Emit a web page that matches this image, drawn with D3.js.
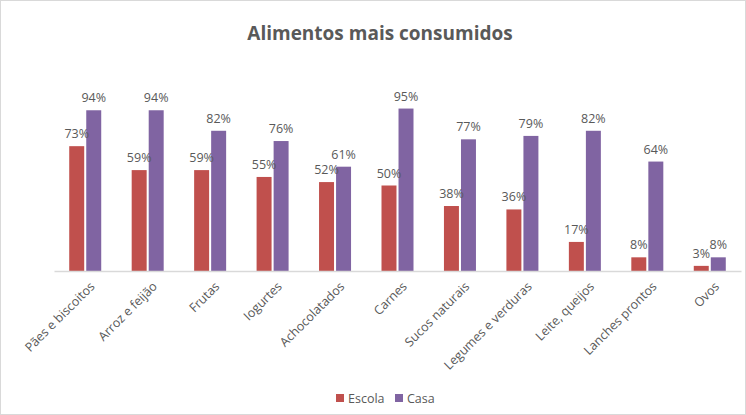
<!DOCTYPE html>
<html>
<head>
<meta charset="utf-8">
<script src="https://cdn.jsdelivr.net/npm/d3@7"></script>
<style>
  body { margin: 0; background: #fff; }
  text { font-family: "Open Sans", "Liberation Sans", sans-serif; fill: #595959; }
</style>
</head>
<body>
<div id="chart"></div>
<script>
// chart data
const categories = ['Pães e biscoitos', 'Arroz e feijão', 'Frutas', 'Iogurtes', 'Achocolatados',
  'Carnes', 'Sucos naturais', 'Legumes e verduras', 'Leite, queijos', 'Lanches prontos', 'Ovos'];
const escola = [73, 59, 59, 55, 52, 50, 38, 36, 17, 8, 3];
const casa = [94, 94, 82, 76, 61, 95, 77, 79, 82, 64, 8];
const seriesNames = ['Escola', 'Casa'];
const colors = ['#C0504D', '#8064A2'];

const width = 746;
const height = 415;
const margin = { top: 100, right: 5, bottom: 144, left: 54 };

const svg = d3.select('#chart')
  .append('svg')
  .attr('width', width)
  .attr('height', height);

// outer border
svg.append('rect')
  .attr('x', 0.5).attr('y', 0.5)
  .attr('width', width - 1).attr('height', height - 1)
  .attr('fill', '#fff')
  .attr('stroke', '#d9d9d9');

svg.append('text')
  .attr('x', 380)
  .attr('y', 40)
  .attr('text-anchor', 'middle')
  .style('font-size', '19px')
  .style('font-weight', 'bold')
  .text('Alimentos mais consumidos');

const x = d3.scaleBand()
  .domain(categories)
  .range([margin.left, width - margin.right]);

const xInner = d3.scaleBand()
  .domain(seriesNames)
  .range([0, 32])
  .paddingInner(0.12);

const y = d3.scaleLinear()
  .domain([0, 100])
  .range([height - margin.bottom, margin.top]);

const rows = categories.map((c, i) => ({ cat: c, values: [escola[i], casa[i]] }));

const groups = svg.append('g')
  .selectAll('g')
  .data(rows)
  .join('g')
  .attr('transform', d => `translate(${x(d.cat) + x.bandwidth() / 2 - 16},0)`);

groups.selectAll('rect')
  .data(d => d.values.map((v, j) => ({ name: seriesNames[j], v, j })))
  .join('rect')
  .attr('x', d => xInner(d.name))
  .attr('y', d => y(d.v))
  .attr('width', xInner.bandwidth())
  .attr('height', d => y(0) - y(d.v))
  .attr('fill', d => colors[d.j]);

groups.selectAll('text')
  .data(d => d.values.map((v, j) => ({ name: seriesNames[j], v, j })))
  .join('text')
  .attr('x', d => xInner(d.name) + xInner.bandwidth() / 2)
  .attr('y', d => y(d.v) - 8)
  .attr('text-anchor', 'middle')
  .style('font-size', '12.5px')
  .text(d => d.v + '%');

// x axis
const xAxis = svg.append('g')
  .attr('transform', `translate(0,${y(0)})`)
  .call(d3.axisBottom(x).tickSize(0).tickPadding(0));
xAxis.select('.domain').attr('stroke', '#d9d9d9').attr('stroke-width', 1.5);
xAxis.selectAll('.tick text')
  .attr('text-anchor', 'end')
  .attr('transform', 'translate(4,10) rotate(-45)')
  .attr('dy', '0.7em')
  .style('font-size', '12.5px')
  .style('fill', '#595959');

// legend
const legend = svg.append('g').attr('transform', 'translate(336,393)');
const items = [{ name: 'Escola', x: 0 }, { name: 'Casa', x: 59 }];
items.forEach((it, j) => {
  legend.append('rect')
    .attr('x', it.x).attr('y', 1)
    .attr('width', 8).attr('height', 8)
    .attr('fill', colors[j]);
  legend.append('text')
    .attr('x', it.x + 12).attr('y', 10)
    .style('font-size', '12.5px')
    .text(it.name);
});
</script>
</body>
</html>
